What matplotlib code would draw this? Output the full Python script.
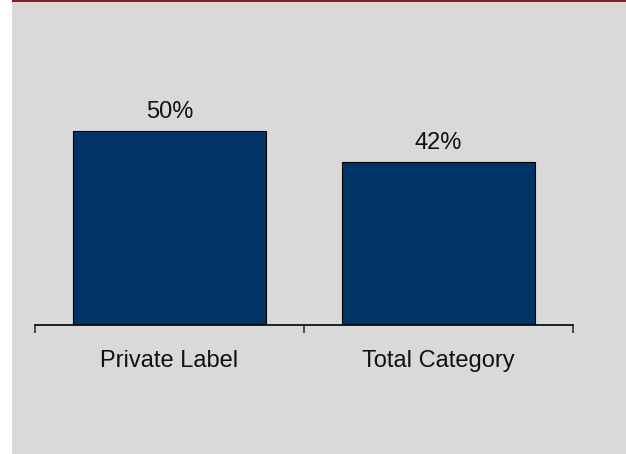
import matplotlib
matplotlib.use("Agg")
import matplotlib.pyplot as plt
from matplotlib.patches import Rectangle

categories = ["Private Label", "Total Category"]
values = [50, 42]
value_labels = ["50%", "42%"]

W, H = 626, 454
fig = plt.figure(figsize=(W / 100, H / 100), dpi=100, facecolor="white")
plt.rcParams["font.family"] = ["Liberation Sans", "DejaVu Sans"]

bg = "#D9D9D9"
fig.patches.append(Rectangle((12 / W, 0), 1 - 12 / W, 1, transform=fig.transFigure,
                             facecolor=bg, edgecolor="none", zorder=-10))
fig.patches.append(Rectangle((12 / W, 1 - 2 / H), 1 - 12 / W, 2 / H, transform=fig.transFigure,
                             facecolor="#8C1A2B", edgecolor="none", zorder=-9))

ax = fig.add_axes([35 / W, (H - 325) / H, (573 - 35) / W, (325 - 92) / H])
ax.set_facecolor("none")
ax.set_zorder(5)
x = list(range(len(categories)))
bars = ax.bar(x, values, width=0.72, color="#003366", edgecolor="black", linewidth=0.8, zorder=2)
ax.set_xlim(-0.5, len(categories) - 0.5)
ax.set_ylim(0, 60)

for rect, lab in zip(bars, value_labels):
    ax.annotate(lab, (rect.get_x() + rect.get_width() / 2, rect.get_height()),
                xytext=(0, 9.4), textcoords="offset points", ha="center", va="baseline",
                fontsize=17, color="#111111")

for s in ["top", "right", "left"]:
    ax.spines[s].set_visible(False)
ax.spines["bottom"].set_linewidth(1.2)
ax.spines["bottom"].set_color("black")
ax.set_yticks([])
ax.set_xticks(x)
ax.set_xticklabels(categories, fontsize=17, color="#111111")
ax.tick_params(axis="x", which="major", length=0, pad=18)
ax.set_xticks([-0.5, 0.5, 1.5], minor=True)
ax.tick_params(axis="x", which="minor", length=6, width=1.2, color="#333333", direction="out")

fig.savefig("out.png", dpi=100, facecolor=fig.get_facecolor())
